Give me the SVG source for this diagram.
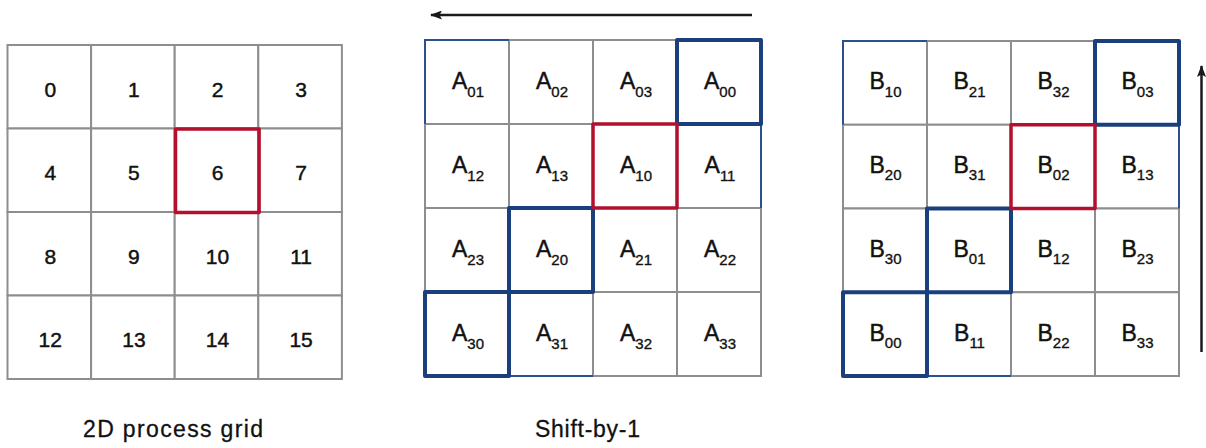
<svg xmlns="http://www.w3.org/2000/svg" width="1206" height="448" viewBox="0 0 1206 448">
  <style>
    .cell { fill: #ffffff; stroke: #8e8e8e; stroke-width: 2; }
    .num { font-family: "Liberation Sans", Arial, sans-serif; font-size: 21px; fill: #111111; stroke: #111111; stroke-width: 0.45; text-anchor: middle; }
    .lbl { font-family: "Liberation Sans", Arial, sans-serif; font-size: 23px; fill: #111111; stroke: #111111; stroke-width: 0.45; text-anchor: middle; }
    .sub { font-size: 15px; stroke-width: 0.35; }
    .cap { font-family: "Liberation Sans", Arial, sans-serif; font-size: 23px; fill: #111111; stroke: #111111; stroke-width: 0.3; text-anchor: middle; }
    .blue { fill: none; stroke: #1b3f7d; stroke-width: 4; stroke-linejoin: round; }
    .red { fill: none; stroke: #b3102e; stroke-width: 3.5; stroke-linejoin: round; }
    .wrap { stroke: #2b5090; stroke-width: 2; fill: none; }
    .arrow { stroke: #1a1a1a; stroke-width: 2.5; fill: none; }
  </style>
  <defs>
    <marker id="head" viewBox="0 0 12 9" refX="11" refY="4.5" markerWidth="12" markerHeight="9" orient="auto" markerUnits="userSpaceOnUse">
      <path d="M0,0 L12,4.5 L0,9 L2.5,4.5 z" fill="#1a1a1a"/>
    </marker>
  </defs>

  <rect width="1206" height="448" fill="#ffffff"/>

  <!-- 2D process grid: ranks 0..15 -->
  <g id="grid-ranks">
    <g id="p0"><rect class="cell" x="7.5" y="45" width="83.6" height="83.5"/><text class="num" x="50.3" y="96.7">0</text></g>
    <g id="p1"><rect class="cell" x="91.1" y="45" width="83.6" height="83.5"/><text class="num" x="133.9" y="96.7">1</text></g>
    <g id="p2"><rect class="cell" x="174.7" y="45" width="83.6" height="83.5"/><text class="num" x="217.5" y="96.7">2</text></g>
    <g id="p3"><rect class="cell" x="258.3" y="45" width="83.6" height="83.5"/><text class="num" x="301.1" y="96.7">3</text></g>
    <g id="p4"><rect class="cell" x="7.5" y="128.5" width="83.6" height="83.5"/><text class="num" x="50.3" y="180.2">4</text></g>
    <g id="p5"><rect class="cell" x="91.1" y="128.5" width="83.6" height="83.5"/><text class="num" x="133.9" y="180.2">5</text></g>
    <g id="p6"><rect class="cell" x="174.7" y="128.5" width="83.6" height="83.5"/><text class="num" x="217.5" y="180.2">6</text></g>
    <g id="p7"><rect class="cell" x="258.3" y="128.5" width="83.6" height="83.5"/><text class="num" x="301.1" y="180.2">7</text></g>
    <g id="p8"><rect class="cell" x="7.5" y="212" width="83.6" height="83.5"/><text class="num" x="50.3" y="263.7">8</text></g>
    <g id="p9"><rect class="cell" x="91.1" y="212" width="83.6" height="83.5"/><text class="num" x="133.9" y="263.7">9</text></g>
    <g id="p10"><rect class="cell" x="174.7" y="212" width="83.6" height="83.5"/><text class="num" x="217.5" y="263.7">10</text></g>
    <g id="p11"><rect class="cell" x="258.3" y="212" width="83.6" height="83.5"/><text class="num" x="301.1" y="263.7">11</text></g>
    <g id="p12"><rect class="cell" x="7.5" y="295.5" width="83.6" height="83.5"/><text class="num" x="50.3" y="347.2">12</text></g>
    <g id="p13"><rect class="cell" x="91.1" y="295.5" width="83.6" height="83.5"/><text class="num" x="133.9" y="347.2">13</text></g>
    <g id="p14"><rect class="cell" x="174.7" y="295.5" width="83.6" height="83.5"/><text class="num" x="217.5" y="347.2">14</text></g>
    <g id="p15"><rect class="cell" x="258.3" y="295.5" width="83.6" height="83.5"/><text class="num" x="301.1" y="347.2">15</text></g>
    <rect class="red" x="175.5" y="129" width="83.6" height="83.5"/>
  </g>

  <!-- Matrix A after row-wise shift -->
  <g id="grid-a">
    <g id="a01"><rect class="cell" x="425" y="40" width="84" height="84"/><text class="lbl" x="468" y="89.3">A<tspan class="sub" dy="7.4">01</tspan></text></g>
    <g id="a02"><rect class="cell" x="509" y="40" width="84" height="84"/><text class="lbl" x="552" y="89.3">A<tspan class="sub" dy="7.4">02</tspan></text></g>
    <g id="a03"><rect class="cell" x="593" y="40" width="84" height="84"/><text class="lbl" x="636" y="89.3">A<tspan class="sub" dy="7.4">03</tspan></text></g>
    <g id="a00"><rect class="cell" x="677" y="40" width="84" height="84"/><text class="lbl" x="720" y="89.3">A<tspan class="sub" dy="7.4">00</tspan></text></g>
    <g id="a12"><rect class="cell" x="425" y="124" width="84" height="84"/><text class="lbl" x="468" y="173.3">A<tspan class="sub" dy="7.4">12</tspan></text></g>
    <g id="a13"><rect class="cell" x="509" y="124" width="84" height="84"/><text class="lbl" x="552" y="173.3">A<tspan class="sub" dy="7.4">13</tspan></text></g>
    <g id="a10"><rect class="cell" x="593" y="124" width="84" height="84"/><text class="lbl" x="636" y="173.3">A<tspan class="sub" dy="7.4">10</tspan></text></g>
    <g id="a11"><rect class="cell" x="677" y="124" width="84" height="84"/><text class="lbl" x="720" y="173.3">A<tspan class="sub" dy="7.4">11</tspan></text></g>
    <g id="a23"><rect class="cell" x="425" y="208" width="84" height="84"/><text class="lbl" x="468" y="257.3">A<tspan class="sub" dy="7.4">23</tspan></text></g>
    <g id="a20"><rect class="cell" x="509" y="208" width="84" height="84"/><text class="lbl" x="552" y="257.3">A<tspan class="sub" dy="7.4">20</tspan></text></g>
    <g id="a21"><rect class="cell" x="593" y="208" width="84" height="84"/><text class="lbl" x="636" y="257.3">A<tspan class="sub" dy="7.4">21</tspan></text></g>
    <g id="a22"><rect class="cell" x="677" y="208" width="84" height="84"/><text class="lbl" x="720" y="257.3">A<tspan class="sub" dy="7.4">22</tspan></text></g>
    <g id="a30"><rect class="cell" x="425" y="292" width="84" height="84"/><text class="lbl" x="468" y="341.3">A<tspan class="sub" dy="7.4">30</tspan></text></g>
    <g id="a31"><rect class="cell" x="509" y="292" width="84" height="84"/><text class="lbl" x="552" y="341.3">A<tspan class="sub" dy="7.4">31</tspan></text></g>
    <g id="a32"><rect class="cell" x="593" y="292" width="84" height="84"/><text class="lbl" x="636" y="341.3">A<tspan class="sub" dy="7.4">32</tspan></text></g>
    <g id="a33"><rect class="cell" x="677" y="292" width="84" height="84"/><text class="lbl" x="720" y="341.3">A<tspan class="sub" dy="7.4">33</tspan></text></g>
    <!-- wrapped-around edges -->
    <path class="wrap" d="M425,124 V40 H509"/>
    <path class="wrap" d="M761,124 V208"/>
    <path class="wrap" d="M509,376 H593"/>
    <!-- diagonal blocks -->
    <rect class="blue" x="677" y="40" width="84" height="84"/>
    <rect class="blue" x="509" y="208" width="84" height="84"/>
    <rect class="blue" x="425" y="292" width="84" height="84"/>
    <rect class="red" x="593" y="124" width="84" height="84"/>
  </g>

  <!-- Matrix B after column-wise shift -->
  <g id="grid-b">
    <g id="b10"><rect class="cell" x="843" y="41" width="84" height="83.75"/><text class="lbl" x="885.5" y="89.3">B<tspan class="sub" dy="7.4">10</tspan></text></g>
    <g id="b21"><rect class="cell" x="927" y="41" width="84" height="83.75"/><text class="lbl" x="969.5" y="89.3">B<tspan class="sub" dy="7.4">21</tspan></text></g>
    <g id="b32"><rect class="cell" x="1011" y="41" width="84" height="83.75"/><text class="lbl" x="1053.5" y="89.3">B<tspan class="sub" dy="7.4">32</tspan></text></g>
    <g id="b03"><rect class="cell" x="1095" y="41" width="84" height="83.75"/><text class="lbl" x="1137.5" y="89.3">B<tspan class="sub" dy="7.4">03</tspan></text></g>
    <g id="b20"><rect class="cell" x="843" y="124.75" width="84" height="83.75"/><text class="lbl" x="885.5" y="173.05">B<tspan class="sub" dy="7.4">20</tspan></text></g>
    <g id="b31"><rect class="cell" x="927" y="124.75" width="84" height="83.75"/><text class="lbl" x="969.5" y="173.05">B<tspan class="sub" dy="7.4">31</tspan></text></g>
    <g id="b02"><rect class="cell" x="1011" y="124.75" width="84" height="83.75"/><text class="lbl" x="1053.5" y="173.05">B<tspan class="sub" dy="7.4">02</tspan></text></g>
    <g id="b13"><rect class="cell" x="1095" y="124.75" width="84" height="83.75"/><text class="lbl" x="1137.5" y="173.05">B<tspan class="sub" dy="7.4">13</tspan></text></g>
    <g id="b30"><rect class="cell" x="843" y="208.5" width="84" height="83.75"/><text class="lbl" x="885.5" y="256.8">B<tspan class="sub" dy="7.4">30</tspan></text></g>
    <g id="b01"><rect class="cell" x="927" y="208.5" width="84" height="83.75"/><text class="lbl" x="969.5" y="256.8">B<tspan class="sub" dy="7.4">01</tspan></text></g>
    <g id="b12"><rect class="cell" x="1011" y="208.5" width="84" height="83.75"/><text class="lbl" x="1053.5" y="256.8">B<tspan class="sub" dy="7.4">12</tspan></text></g>
    <g id="b23"><rect class="cell" x="1095" y="208.5" width="84" height="83.75"/><text class="lbl" x="1137.5" y="256.8">B<tspan class="sub" dy="7.4">23</tspan></text></g>
    <g id="b00"><rect class="cell" x="843" y="292.25" width="84" height="83.75"/><text class="lbl" x="885.5" y="340.55">B<tspan class="sub" dy="7.4">00</tspan></text></g>
    <g id="b11"><rect class="cell" x="927" y="292.25" width="84" height="83.75"/><text class="lbl" x="969.5" y="340.55">B<tspan class="sub" dy="7.4">11</tspan></text></g>
    <g id="b22"><rect class="cell" x="1011" y="292.25" width="84" height="83.75"/><text class="lbl" x="1053.5" y="340.55">B<tspan class="sub" dy="7.4">22</tspan></text></g>
    <g id="b33"><rect class="cell" x="1095" y="292.25" width="84" height="83.75"/><text class="lbl" x="1137.5" y="340.55">B<tspan class="sub" dy="7.4">33</tspan></text></g>
    <!-- wrapped-around edges -->
    <path class="wrap" d="M843,124.75 V41 H927"/>
    <path class="wrap" d="M1179,124.75 V208.5"/>
    <path class="wrap" d="M927,376 H1011"/>
    <!-- diagonal blocks -->
    <rect class="blue" x="1095" y="41" width="84" height="83.75"/>
    <rect class="blue" x="927" y="208.5" width="84" height="83.75"/>
    <rect class="blue" x="843" y="292.25" width="84" height="83.75"/>
    <rect class="red" x="1011" y="124.75" width="84" height="83.75"/>
  </g>

  <!-- shift direction arrows -->
  <g id="connectors">
    <line class="arrow" x1="752" y1="15" x2="431" y2="15" marker-end="url(#head)"/>
    <line class="arrow" x1="1201.5" y1="352" x2="1201.5" y2="66" marker-end="url(#head)"/>
  </g>

  <!-- captions -->
  <g id="captions">
    <text class="cap" x="173" y="437" textLength="180" lengthAdjust="spacing">2D process grid</text>
    <text class="cap" x="587.5" y="437" textLength="105" lengthAdjust="spacing">Shift-by-1</text>
  </g>
</svg>
